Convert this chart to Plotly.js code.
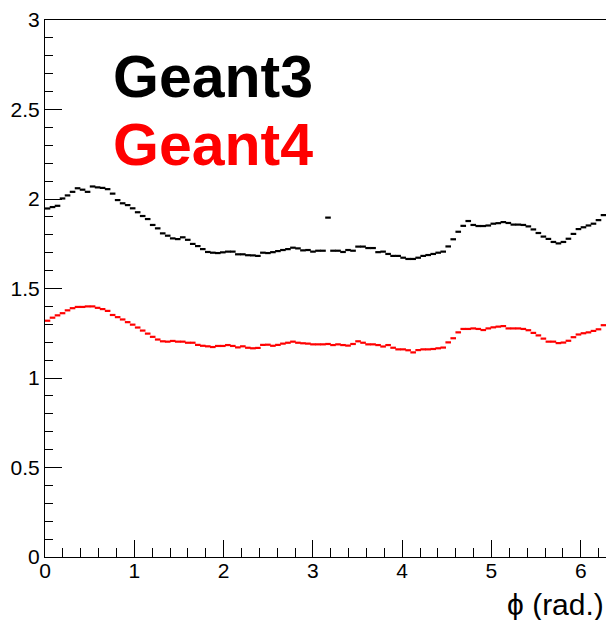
<!DOCTYPE html>
<html>
<head>
<meta charset="utf-8">
<script src="https://cdn.plot.ly/plotly-3.0.1.min.js"></script>
<style>html,body{margin:0;padding:0;background:#fff;}#chart{width:606px;height:620px;}</style>
</head>
<body>
<div id="chart"></div>
<script>
// 112 bins over [0, 2*pi]
const nBins = 112;
const xMin = 0;
const xMax = 2 * Math.PI;

const geant3 = [
  1.947, 1.955, 1.962, 2.003, 2.02, 2.04, 2.06, 2.052, 2.04, 2.07,
  2.065, 2.062, 2.055, 2.03, 1.994, 1.976, 1.966, 1.948, 1.926, 1.905,
  1.888, 1.855, 1.836, 1.808, 1.795, 1.78, 1.776, 1.786, 1.772, 1.749,
  1.737, 1.72, 1.704, 1.70, 1.698, 1.702, 1.706, 1.706, 1.691, 1.691,
  1.686, 1.685, 1.682, 1.70, 1.698, 1.703, 1.709, 1.715, 1.72, 1.728,
  1.724, 1.713, 1.715, 1.706, 1.711, 1.711, 1.896, 1.711, 1.711, 1.704,
  1.715, 1.711, 1.734, 1.734, 1.726, 1.726, 1.703, 1.706, 1.693, 1.682,
  1.682, 1.672, 1.665, 1.665, 1.672, 1.682, 1.687, 1.693, 1.70, 1.706,
  1.735, 1.775, 1.817, 1.85, 1.877, 1.855, 1.849, 1.849, 1.852, 1.862,
  1.865, 1.871, 1.866, 1.857, 1.857, 1.855, 1.847, 1.83, 1.81, 1.79,
  1.777, 1.76, 1.752, 1.76, 1.778, 1.805, 1.832, 1.842, 1.852, 1.862,
  1.882, 1.91
];

const geant4 = [
  1.32, 1.337, 1.35, 1.362, 1.378, 1.39, 1.397, 1.397, 1.4, 1.4,
  1.392, 1.385, 1.375, 1.352, 1.34, 1.327, 1.312, 1.298, 1.282, 1.265,
  1.248, 1.23, 1.215, 1.205, 1.203, 1.207, 1.203, 1.203, 1.197, 1.197,
  1.185, 1.18, 1.177, 1.173, 1.179, 1.179, 1.184, 1.179, 1.171, 1.177,
  1.169, 1.166, 1.168, 1.185, 1.186, 1.18, 1.185, 1.192, 1.197, 1.203,
  1.197, 1.194, 1.192, 1.188, 1.188, 1.188, 1.19, 1.184, 1.188, 1.184,
  1.181, 1.19, 1.205, 1.197, 1.188, 1.188, 1.184, 1.176, 1.184, 1.169,
  1.16, 1.16, 1.155, 1.143, 1.156, 1.16, 1.16, 1.162, 1.166, 1.17,
  1.199, 1.222, 1.255, 1.274, 1.274, 1.277, 1.274, 1.268, 1.277, 1.283,
  1.287, 1.29, 1.277, 1.277, 1.277, 1.274, 1.267, 1.252, 1.238, 1.22,
  1.203, 1.203, 1.195, 1.198, 1.208, 1.228, 1.243, 1.25, 1.255, 1.263,
  1.272, 1.295
];

const labels = ["Geant3", "Geant4"];
const colors = ["#000000", "#ff0000"];
const xTitle = "\u03D5 (rad.)";

const binW = (xMax - xMin) / nBins;
const xs = [];
for (let i = 0; i < nBins; i++) xs.push(xMin + (i + 0.5) * binW);

function trace(y, c) {
  return {
    x: xs, y: y, type: "scatter", mode: "markers", showlegend: false,
    hoverinfo: "skip",
    marker: { symbol: "line-ew", size: 4, color: c, line: { color: c, width: 2.2 } }
  };
}

const data = [trace(geant3, colors[0]), trace(geant4, colors[1])];

const tickFont = { family: "Liberation Sans, Arial, sans-serif", size: 21, color: "#000" };

const layout = {
  width: 606, height: 620,
  margin: { l: 45, r: 0, t: 20, b: 63, pad: 0 },
  paper_bgcolor: "#fff", plot_bgcolor: "#fff",
  showlegend: false,
  xaxis: {
    range: [xMin, xMax], showgrid: false, zeroline: false,
    showline: true, linecolor: "#000", linewidth: 1, mirror: true,
    ticks: "inside", ticklen: 17, tickwidth: 1, tickcolor: "#000",
    tick0: 0, dtick: 1, tickfont: tickFont, ticklabelstandoff: -5,
    minor: { ticks: "inside", ticklen: 9, tickwidth: 1, tickcolor: "#000", dtick: 0.2, showgrid: false }
  },
  yaxis: {
    range: [0, 3], showgrid: false, zeroline: false,
    showline: true, linecolor: "#000", linewidth: 1, mirror: true,
    ticks: "inside", ticklen: 17, tickwidth: 1, tickcolor: "#000",
    tick0: 0, dtick: 0.5, tickfont: tickFont,
    minor: { ticks: "inside", ticklen: 8, tickwidth: 1, tickcolor: "#000", dtick: 0.1, showgrid: false }
  },
  annotations: [
    { xref: "paper", yref: "paper", x: 0.118, y: 0.894, xanchor: "left", yanchor: "middle",
      text: "<b>" + labels[0] + "</b>", showarrow: false,
      font: { family: "Liberation Sans, Arial, sans-serif", size: 59, color: colors[0] } },
    { xref: "paper", yref: "paper", x: 0.118, y: 0.767, xanchor: "left", yanchor: "middle",
      text: "<b>" + labels[1] + "</b>", showarrow: false,
      font: { family: "Liberation Sans, Arial, sans-serif", size: 59, color: colors[1] } },
    { xref: "paper", yref: "paper", x: 1.0, y: -0.088, xanchor: "right", yanchor: "middle",
      text: xTitle, showarrow: false,
      font: { family: "Liberation Sans, Arial, sans-serif", size: 30, color: "#000" } }
  ]
};

Plotly.newPlot("chart", data, layout, { displayModeBar: false, staticPlot: true });
</script>
</body>
</html>
